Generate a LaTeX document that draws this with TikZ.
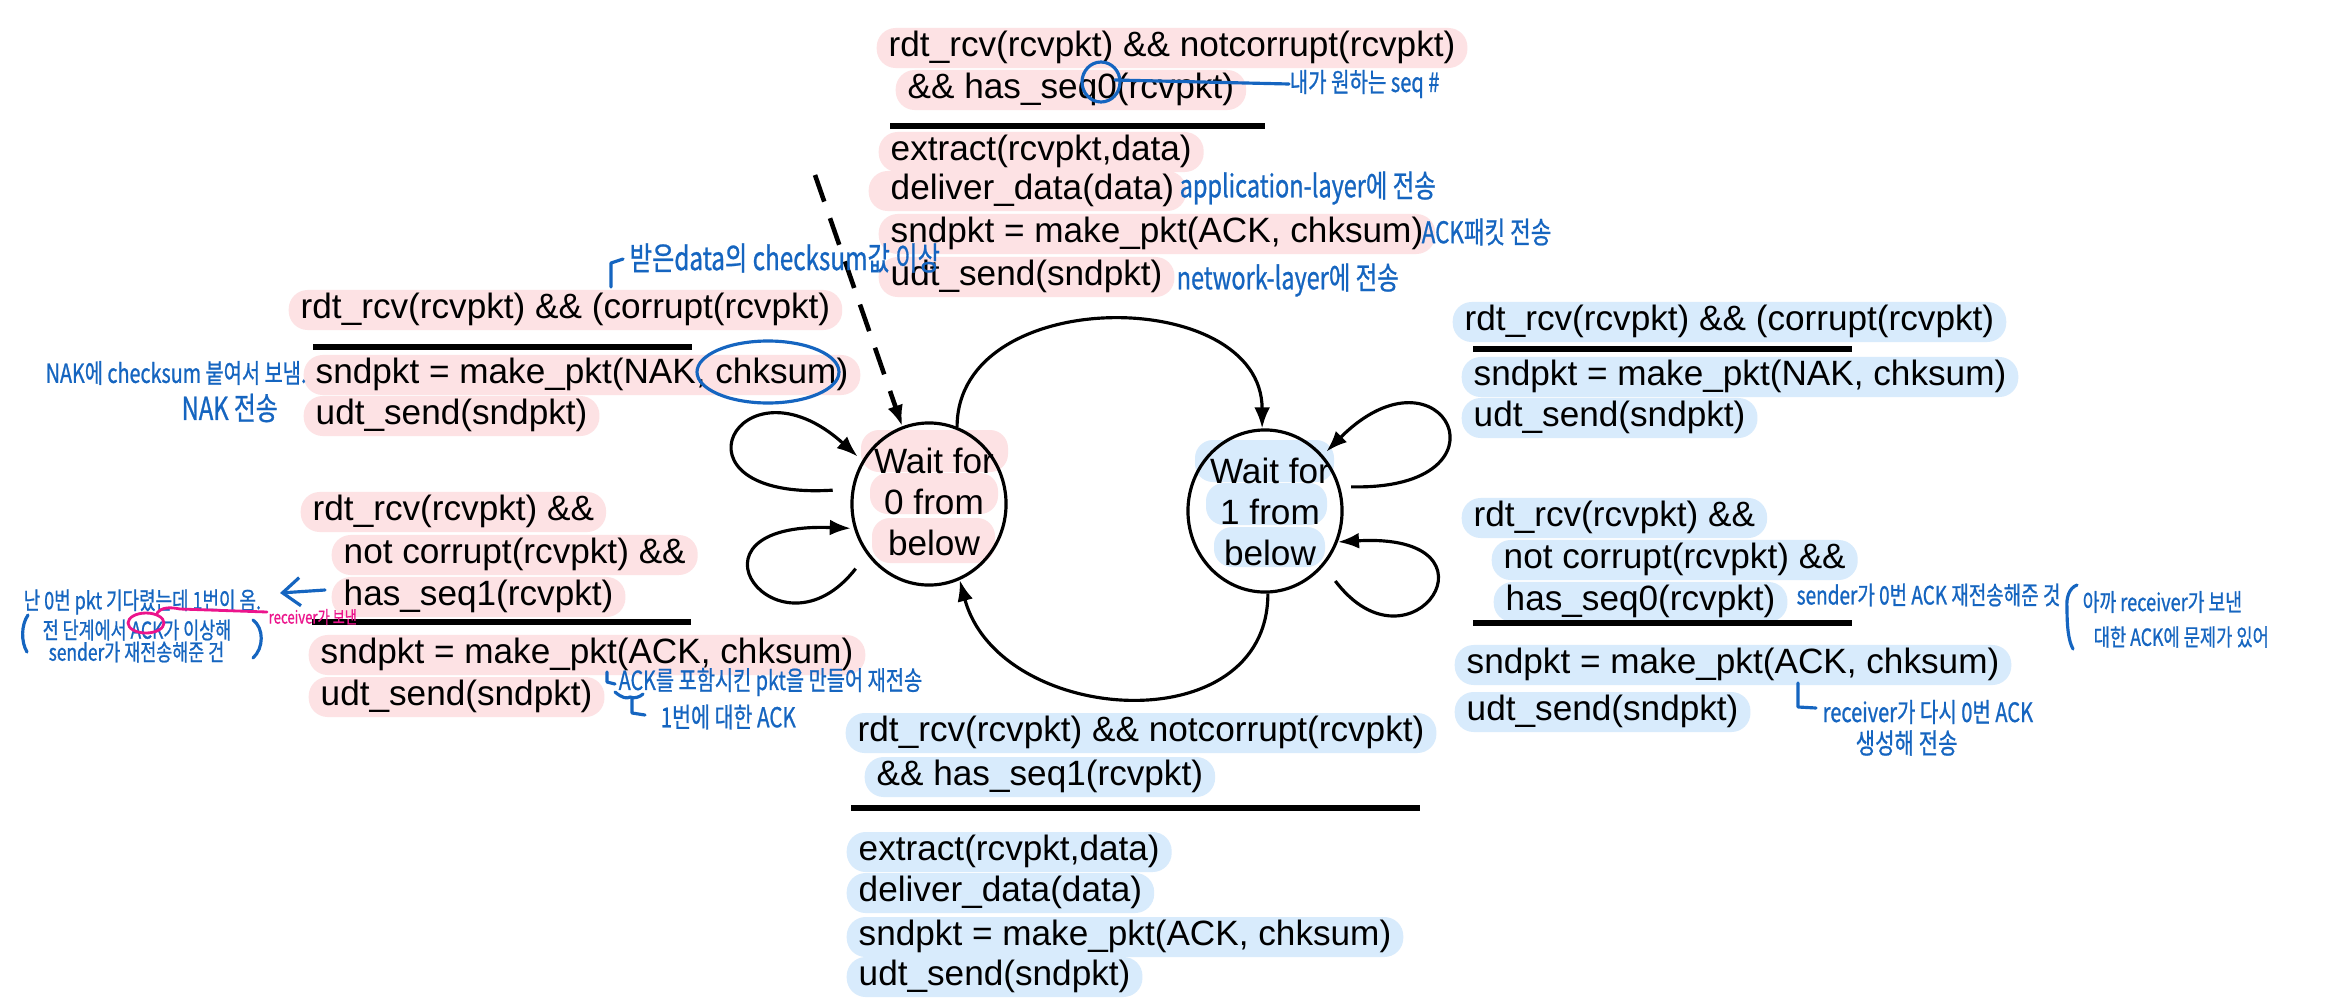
\documentclass[tikz,border=0pt]{standalone}
\usepackage{fontspec}
\setmainfont{Liberation Sans}
\newfontfamily\hand[FakeStretch=0.75,FakeBold=0.8]{Noto Sans CJK KR}
\usetikzlibrary{arrows.meta,calc,shapes.geometric}
\definecolor{hlpink}{RGB}{253,226,228}
\definecolor{hlblue}{RGB}{216,235,252}
\definecolor{inkblue}{RGB}{21,101,192}
\definecolor{inkpink}{RGB}{236,20,140}

\begin{document}
\begin{tikzpicture}[x=0.01cm,y=-0.01cm,
    every node/.style={font=\fontsize{10}{11.7}\selectfont},
    pinkrow/.style={anchor=west, fill=hlpink, rounded corners=0.19cm, inner xsep=0.12cm, inner ysep=0pt, minimum height=0.4cm, text height=7.2pt, text depth=2.1pt},
    bluerow/.style={pinkrow, fill=hlblue},
    guard/.style={line width=1.5pt},
    waitstate/.style={draw, ellipse, line width=0.9pt, minimum width=1.54cm, minimum height=1.62cm, inner sep=0pt},
    trans/.style={line width=0.9pt, -{Latex[length=6pt,width=4.5pt]}},
    init/.style={trans, line width=1.3pt, dash pattern=on 8pt off 5pt},
    memo/.style={anchor=west, inner sep=0pt, text=inkblue, font={\hand\fontsize{#1}{#1}\selectfont}},
    memo/.default=7.5,
    inkline/.style={draw=inkblue, line width=0.9pt, line cap=round, line join=round},
    markline/.style={draw=inkpink, line width=0.8pt, line cap=round}]

    \fill[white] (0,0) rectangle (2352,1000);
    \useasboundingbox (0,0) rectangle (2352,1000);

    % receiver side, Wait for 0 -> Wait for 1
    \node[pinkrow] (a1) at (876,48) {rdt\_rcv(rcvpkt) \&\& notcorrupt(rcvpkt)};
    \node[pinkrow] (a2) at (895,90) {\&\& has\_seq0(rcvpkt)};
    \draw[guard] (890,126) -- (1265,126);
    \node[pinkrow] (a3) at (878,152) {extract(rcvpkt,data)};
    \node[pinkrow] (a4) at (868,191) {\hspace{0.1cm}deliver\_data(data)};
    \node[pinkrow] (a5) at (878,234) {sndpkt = make\_pkt(ACK, chksum)};
    \node[pinkrow] (a6) at (878,277) {udt\_send(sndpkt)};

    \node[pinkrow] (b1) at (288,310) {rdt\_rcv(rcvpkt) \&\& (corrupt(rcvpkt)};
    \draw[guard] (313,347) -- (692,347);
    \node[pinkrow] (b2) at (303,375) {sndpkt = make\_pkt(NAK, chksum)};
    \node[pinkrow] (b3) at (303,416) {udt\_send(sndpkt)};

    \node[pinkrow] (c1) at (300,512) {rdt\_rcv(rcvpkt) \&\&};
    \node[pinkrow] (c2) at (331,555) {not corrupt(rcvpkt) \&\&};
    \node[pinkrow] (c3) at (331,597) {has\_seq1(rcvpkt)};
    \draw[guard] (312,622) -- (691,622);
    \node[pinkrow] (c4) at (308,655) {sndpkt = make\_pkt(ACK, chksum)};
    \node[pinkrow] (c5) at (308,697) {udt\_send(sndpkt)};

    % Wait for 1 -> Wait for 0
    \node[bluerow] (d1) at (845,733) {rdt\_rcv(rcvpkt) \&\& notcorrupt(rcvpkt)};
    \node[bluerow] (d2) at (864,777) {\&\& has\_seq1(rcvpkt)};
    \draw[guard] (851,808) -- (1420,808);
    \node[bluerow] (d3) at (846,852) {extract(rcvpkt,data)};
    \node[bluerow] (d4) at (846,893) {deliver\_data(data)};
    \node[bluerow] (d5) at (846,937) {sndpkt = make\_pkt(ACK, chksum)};
    \node[bluerow] (d6) at (846,977) {udt\_send(sndpkt)};

    \node[bluerow] (e1) at (1452,322) {rdt\_rcv(rcvpkt) \&\& (corrupt(rcvpkt)};
    \draw[guard] (1473,349) -- (1852,349);
    \node[bluerow] (e2) at (1461,377) {sndpkt = make\_pkt(NAK, chksum)};
    \node[bluerow] (e3) at (1461,418) {udt\_send(sndpkt)};

    \node[bluerow] (f1) at (1461,518) {rdt\_rcv(rcvpkt) \&\&};
    \node[bluerow] (f2) at (1491,560) {not corrupt(rcvpkt) \&\&};
    \node[bluerow] (f3) at (1493,602) {has\_seq0(rcvpkt)};
    \draw[guard] (1473,623) -- (1852,623);
    \node[bluerow] (f4) at (1454,665) {sndpkt = make\_pkt(ACK, chksum)};
    \node[bluerow] (f5) at (1454,712) {udt\_send(sndpkt)};

    % states
    \fill[hlpink, rounded corners=0.18cm] (861,430) rectangle (1008,472);
    \fill[hlpink, rounded corners=0.18cm] (870,473) rectangle (998,514);
    \fill[hlpink, rounded corners=0.18cm] (872,518) rectangle (995,563);
    \fill[hlblue, rounded corners=0.18cm] (1195,440) rectangle (1334,482);
    \fill[hlblue, rounded corners=0.18cm] (1206,483) rectangle (1327,525);
    \fill[hlblue, rounded corners=0.18cm] (1214,527) rectangle (1325,567);
    \node[waitstate] (s0) at (929,504) {};
    \node[waitstate] (s1) at (1265,511) {};
    \node[align=center] (w0) at (934,502) {Wait for\\0 from\\below};
    \node[align=center] (w1) at (1270,512) {Wait for\\1 from\\below};

    \coordinate (start) at (815,175);
    \draw[init] (start) -- (s0.109);
    \draw[trans] (s0.70) to[out=90,in=90,looseness=1.2] (s1.92);
    \draw[trans] (s1.-88) to[out=-90,in=-75,looseness=1.25] (s0.-68);
    \draw[trans, shorten <=0.19cm, shorten >=0.06cm] (s0.169) .. controls +(-193,12) and +(-123,-111) .. (s0.147);
    \draw[trans, shorten <=0.18cm, shorten >=0.03cm] (s0.219) .. controls +(-88,113) and +(-185,-7) .. (s0.198);
    \draw[trans, shorten <=0.11cm, shorten >=0.05cm] (s1.18) .. controls +(180,4) and +(120,-120) .. (s1.44);
    \draw[trans, shorten <=0.19cm] (s1.-43) .. controls +(88,116) and +(174,-10) .. (s1.-23);

    % notes
    \node[memo=7.6] (nseq) at (1289,84) {내가 원하는 seq \#};
    \draw[inkline] (1101,82) ellipse [x radius=19, y radius=20];
    \draw[inkline] (1115,80) -- (nseq.west);
    \node[memo=8.9] (napp) at (1179,188) {application-layer에 전송};
    \node[memo=8.5] (nack) at (1421,232) {ACK패킷 전송};
    \node[memo=8.9] (nnet) at (1176,280) {network-layer에 전송};

    \node[memo=9.2] (nchk) at (629,258) {받은data의 checksum값 이상};
    \draw[inkline] (611,287) -- (611,263) -- (623,259);
    \draw[inkline] (768,372) ellipse [x radius=71, y radius=31];
    \node[memo=7.5] (nnak) at (45,373) {NAK에 checksum 붙여서 보냄.};
    \node[memo=9] (nnaks) at (181,408) {NAK 전송};

    \node[memo=6.8] (nwait) at (23,602) {난 0번 pkt 기다렸는데 1번이 옴.};
    \draw[inkline, -{Straight Barb[length=5pt,width=8pt]}] (325,590) -- (280,593);
    \draw[inkline] (28,615) .. controls (21,625) and (21,642) .. (27,652);
    \node[memo=6.6] (nprev) at (42,630) {전 단계에서 ACK가 이상해};
    \node[memo=6.6] (nsend) at (48,652) {sender가 재전송해준 건};
    \draw[inkline] (253,620) .. controls (264,628) and (264,648) .. (253,658);
    \draw[markline] (146,623) ellipse [x radius=18, y radius=10];
    \draw[markline] (157,613) .. controls (162,607) and (170,607) .. (180,609) -- (267,612);
    \node[memo=5, text=inkpink] (nrecv) at (268,617) {receiver가 보낸};

    \draw[inkline] (607,672) -- (607,682) -- (615,684);
    \node[memo=7.5] (nincl) at (618,682) {ACK를 포함시킨 pkt을 만들어 재전송};
    \draw[inkline] (615,692) .. controls (622,698) and (627,699) .. (630,697) .. controls (634,699) and (640,697) .. (643,694);
    \draw[inkline] (632,699) -- (632,713) -- (645,715);
    \node[memo=7.8] (none) at (660,717) {1번에 대한 ACK};

    \node[memo=7.2] (nsnd) at (1796,595) {sender가 0번 ACK 재전송해준 것};
    \draw[inkline] (2077,585) .. controls (2069,588) and (2066,598) .. (2067,608) .. controls (2067,625) and (2068,640) .. (2073,649);
    \node[memo=6.9] (nago) at (2082,602) {아까 receiver가 보낸};
    \node[memo=6.7] (nbad) at (2093,637) {대한 ACK에 문제가 있어};
    \draw[inkline] (1798,683) -- (1798,707) -- (1816,708);
    \node[memo=7.6] (nagain) at (1822,712) {receiver가 다시 0번 ACK};
    \node[memo=8] (nmake) at (1855,743) {생성해 전송};
\end{tikzpicture}
\end{document}
